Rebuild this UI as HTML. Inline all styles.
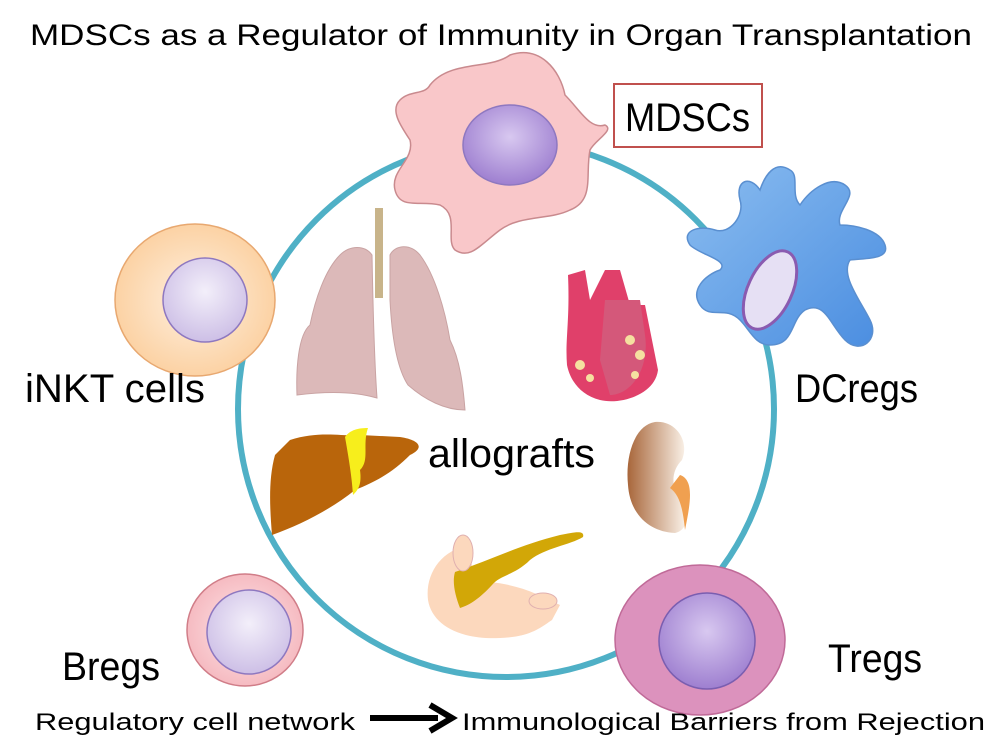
<!DOCTYPE html>
<html><head><meta charset="utf-8"><style>
html,body{margin:0;padding:0;background:#fff;}
svg{display:block;}
text{font-family:"Liberation Sans",sans-serif;fill:#000;}
</style></head><body>
<svg width="1000" height="750" viewBox="0 0 1000 750" xmlns="http://www.w3.org/2000/svg">
<defs>
<radialGradient id="peach" cx="50%" cy="50%" r="55%"><stop offset="0" stop-color="#fff0e0"/><stop offset="1" stop-color="#fbcf9e"/></radialGradient>
<radialGradient id="lav" cx="50%" cy="40%" r="60%"><stop offset="0" stop-color="#f3effa"/><stop offset="1" stop-color="#cdbfe6"/></radialGradient>
<radialGradient id="pur" cx="50%" cy="40%" r="60%"><stop offset="0" stop-color="#d8c8f0"/><stop offset="1" stop-color="#9e7fd0"/></radialGradient>
<radialGradient id="pinkc" cx="50%" cy="50%" r="55%"><stop offset="0" stop-color="#fde8ea"/><stop offset="1" stop-color="#f5b6bd"/></radialGradient>
<linearGradient id="kid" x1="0" x2="1"><stop offset="0" stop-color="#a8663a"/><stop offset="1" stop-color="#fbf3ea"/></linearGradient>
<linearGradient id="blue" x1="0" y1="0" x2="1" y2="1"><stop offset="0" stop-color="#8bbdf0"/><stop offset="1" stop-color="#4a8de0"/></linearGradient>
</defs>
<text x="30" y="45" font-size="30" textLength="942" lengthAdjust="spacingAndGlyphs">MDSCs as a Regulator of Immunity in Organ Transplantation</text>

<circle cx="506" cy="409" r="268" fill="none" stroke="#4fb0c6" stroke-width="6"/>

<path d="M430 85 C450 60 490 70 510 55 C540 45 560 70 565 95 C580 110 590 130 605 125 C615 130 595 140 590 150 C585 175 595 200 570 210 C550 220 520 215 500 230 C480 245 470 260 455 250 C445 240 460 215 440 205 C420 200 400 210 395 190 C390 170 415 160 410 140 C400 125 390 110 400 100 C410 90 425 95 430 85 Z" fill="#f9c7c9" stroke="#c98a8e" stroke-width="1.5"/>
<ellipse cx="510" cy="145" rx="47" ry="40" fill="url(#pur)" stroke="#8e78c0" stroke-width="1.5"/>
<rect x="614" y="84" width="148" height="63" fill="#fff" stroke="#c0504d" stroke-width="2"/>
<text x="625" y="131" font-size="40" textLength="125" lengthAdjust="spacingAndGlyphs">MDSCs</text>

<path d="M740 200 C735 180 750 175 760 190 C765 175 775 160 790 170 C800 175 790 195 800 205 C810 190 830 175 845 185 C860 195 835 210 840 225 C855 225 880 230 885 245 C890 260 865 258 850 260 C840 275 860 300 870 320 C880 340 860 355 845 340 C830 325 825 300 805 310 C790 320 795 345 770 345 C755 345 750 330 740 320 C725 305 710 320 700 305 C690 290 705 275 720 270 C730 260 700 255 690 245 C680 230 700 225 715 230 C730 235 745 215 740 200 Z" fill="url(#blue)" stroke="#5a8fd0" stroke-width="1.5"/>
<ellipse cx="770" cy="290" rx="22" ry="42" transform="rotate(25 770 290)" fill="#e6e0f4" stroke="#8a5bb0" stroke-width="3"/>
<text x="795" y="402" font-size="40" textLength="123" lengthAdjust="spacingAndGlyphs">DCregs</text>

<ellipse cx="195" cy="300" rx="80" ry="76" fill="url(#peach)" stroke="#e8a870" stroke-width="1.5"/>
<ellipse cx="205" cy="300" rx="42" ry="42" fill="url(#lav)" stroke="#8e78c0" stroke-width="1.5"/>
<text x="25" y="402" font-size="40" textLength="180" lengthAdjust="spacingAndGlyphs">iNKT cells</text>

<ellipse cx="245" cy="630" rx="58" ry="56" fill="url(#pinkc)" stroke="#d07d88" stroke-width="1.5"/>
<ellipse cx="249" cy="632" rx="42" ry="42" fill="url(#lav)" stroke="#8e78c0" stroke-width="1.5"/>
<text x="62" y="680" font-size="40" textLength="98" lengthAdjust="spacingAndGlyphs">Bregs</text>

<ellipse cx="700" cy="640" rx="85" ry="75" fill="#dc92bd" stroke="#c06a98" stroke-width="1.5"/>
<ellipse cx="707" cy="641" rx="48" ry="48" fill="url(#pur)" stroke="#7a5eb0" stroke-width="1.5"/>
<text x="828" y="672" font-size="40" textLength="94" lengthAdjust="spacingAndGlyphs">Tregs</text>

<!-- lungs -->
<rect x="375" y="208" width="8" height="90" fill="#c8b48a"/>
<path d="M372 255 C365 245 350 245 340 255 C325 270 315 300 310 325 C298 335 296 370 297 395 C320 392 350 390 377 398 C375 370 373 310 372 255 Z" fill="#dcb9b9" stroke="#c9a3a3"/>
<path d="M390 255 C395 245 410 243 420 255 C435 275 445 310 450 340 C460 360 463 385 465 410 C445 410 425 400 408 385 C398 370 392 340 390 300 Z" fill="#dcb9b9" stroke="#c9a3a3"/>
<!-- heart -->
<path d="M568 275 L585 270 L590 300 L605 270 L620 270 L630 305 L645 305 L650 330 L658 370 C655 395 620 405 600 400 C580 395 570 380 567 365 C565 340 570 320 568 275 Z" fill="#e0406a"/>
<path d="M605 300 L640 300 L645 335 C650 370 630 395 610 395 L600 360 Z" fill="#d4587a"/>
<g fill="#f5e0a0"><circle cx="630" cy="340" r="5"/><circle cx="640" cy="355" r="5"/><circle cx="580" cy="365" r="5"/><circle cx="590" cy="378" r="4"/><circle cx="635" cy="375" r="4"/></g>
<!-- liver -->
<path d="M290 440 C320 430 345 437 360 435 L400 437 C420 440 425 448 410 455 C395 470 380 480 355 490 C330 510 300 525 272 535 C270 510 268 480 275 455 Z" fill="#b9650b"/>
<path d="M345 437 C350 430 358 428 368 428 C362 445 370 460 360 470 C362 485 358 490 353 495 C352 480 350 465 345 437 Z" fill="#f7ee1c"/>
<text x="428" y="467" font-size="40" textLength="167" lengthAdjust="spacingAndGlyphs">allografts</text>
<!-- kidney -->
<path d="M655 422 C635 425 625 455 628 485 C630 515 650 532 675 533 C690 530 688 510 680 500 C670 485 672 470 682 460 C690 440 675 420 655 422 Z" fill="url(#kid)"/>
<path d="M680 475 C695 480 690 505 685 530 C683 510 680 495 670 488 Z" fill="#f0a050"/>
<!-- pancreas -->
<path d="M470 545 C440 550 425 575 428 600 C432 625 460 640 500 638 C530 637 540 628 552 620 L560 605 C540 595 520 585 490 582 C470 575 470 560 470 545 Z" fill="#fcd8bd"/>
<path d="M455 572 C490 560 520 545 560 535 C575 532 585 530 583 537 C570 545 545 548 530 560 C515 575 500 575 492 585 C480 598 470 605 460 608 C455 595 452 582 455 572 Z" fill="#d2a707"/>
<ellipse cx="463" cy="553" rx="10" ry="18" fill="#fcd8bd" stroke="#e0b0b0"/>
<ellipse cx="543" cy="601" rx="14" ry="8" fill="#fcd8bd" stroke="#e0b0b0"/>

<text x="35" y="730" font-size="24" textLength="320" lengthAdjust="spacingAndGlyphs">Regulatory cell network</text>
<line x1="370" y1="718" x2="438" y2="718" stroke="#000" stroke-width="6"/>
<path d="M430 705 L452 718 L430 731" fill="none" stroke="#000" stroke-width="6"/>
<text x="462" y="730" font-size="24" textLength="523" lengthAdjust="spacingAndGlyphs">Immunological Barriers from Rejection</text>
</svg>
</body></html>
